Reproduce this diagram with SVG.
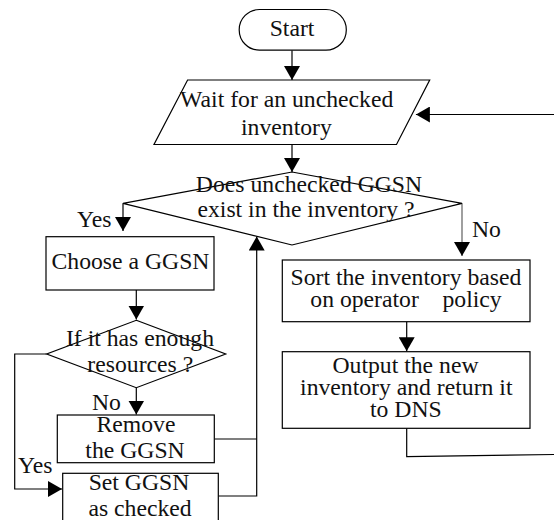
<svg xmlns="http://www.w3.org/2000/svg" width="554" height="520" viewBox="0 0 554 520">
<style>
.s{fill:#fff;stroke:#000;stroke-width:1.2}
.t{font-family:"Liberation Serif","Times New Roman",serif;font-size:23.7px;fill:#111;text-anchor:middle;white-space:pre}
.l{font-family:"Liberation Serif","Times New Roman",serif;font-size:23.7px;fill:#111}
.c{fill:none;stroke:#000;stroke-width:1.2}
.g{fill:none;stroke:#777;stroke-width:1.4}
</style>
<defs>
<marker id="a" markerUnits="userSpaceOnUse" markerWidth="14" markerHeight="16" refX="14" refY="8" orient="auto">
<path d="M0,0 L14,8 L0,16 z" fill="#000"/>
</marker>
</defs>
<rect width="554" height="520" fill="#fff"/>
<g id="connectors">
<path class="c" d="M292,50.2 V80" marker-end="url(#a)"/>
<path class="c" d="M292,144.5 V172" marker-end="url(#a)"/>
<path class="c" d="M554,114.5 H415.9" marker-end="url(#a)"/>
<path class="c" d="M123,203.3 V231" marker-end="url(#a)"/>
<path class="c" d="M136.3,290 V319.5" marker-end="url(#a)"/>
<path class="c" d="M136.3,387.7 V414.5" marker-end="url(#a)"/>
<path class="c" d="M46.7,354 H14.7 V489 H62" marker-end="url(#a)"/>
<path class="c" d="M214.3,439 H256.7"/>
<path class="c" d="M218.3,496 H256.7 V236.5" marker-end="url(#a)"/>
<path class="g" d="M462,203.3 V256" marker-end="url(#a)"/>
<path class="c" d="M406.7,321.7 V351.2" marker-end="url(#a)"/>
<path class="c" d="M406.7,428.3 V456.7 L554,454.5"/>
</g>
<g id="start">
<rect class="s" x="239.2" y="9.5" width="107.1" height="40.7" rx="20.3"/>
<text class="t" x="292" y="36">Start</text>
</g>
<g id="wait">
<polygon class="s" points="187.6,80 429.7,80 396.5,144.5 154,144.5"/>
<text class="t" x="286.7" y="106.7">Wait for an unchecked</text>
<text class="t" x="286.4" y="135.3">inventory</text>
</g>
<g id="exist">
<polygon class="s" points="292,172 462,203.3 292,245 123,203.3"/>
<text class="t" x="309" y="191.7">Does unchecked GGSN</text>
<text class="t" x="306" y="216.7">exist in the inventory ?</text>
</g>
<text class="l" x="77" y="226.7">Yes</text>
<text class="l" x="472" y="236.7">No</text>
<g id="choose">
<rect class="s" x="46" y="236.7" width="168" height="53.3"/>
<text class="t" x="130.5" y="269.3">Choose a GGSN</text>
</g>
<g id="enough">
<polygon class="s" points="136.3,320.3 225.7,354 136.3,387.7 46.7,354"/>
<text class="t" x="140" y="346">If it has enough</text>
<text class="t" x="140.3" y="371.7">resources ?</text>
</g>
<text class="l" x="92" y="410">No</text>
<g id="remove">
<rect class="s" x="57.3" y="415" width="157" height="47.7"/>
<text class="t" x="136" y="431.7">Remove</text>
<text class="t" x="135" y="458.3">the GGSN</text>
</g>
<text class="l" x="18" y="472.7">Yes</text>
<g id="set">
<rect class="s" x="62.7" y="473.3" width="155.6" height="55"/>
<text class="t" x="139" y="490">Set GGSN</text>
<text class="t" x="140" y="515.5">as checked</text>
</g>
<g id="sort">
<rect class="s" x="282.3" y="260" width="247.7" height="61.7"/>
<text class="t" x="406" y="285">Sort the inventory based</text>
<text class="t" x="406" y="307" xml:space="preserve">on operator    policy</text>
</g>
<g id="output">
<rect class="s" x="282.3" y="351.7" width="247.7" height="76.6"/>
<text class="t" x="405.5" y="373.3">Output the new</text>
<text class="t" x="406.3" y="395">inventory and return it</text>
<text class="t" x="405.8" y="416.7">to DNS</text>
</g>
</svg>
